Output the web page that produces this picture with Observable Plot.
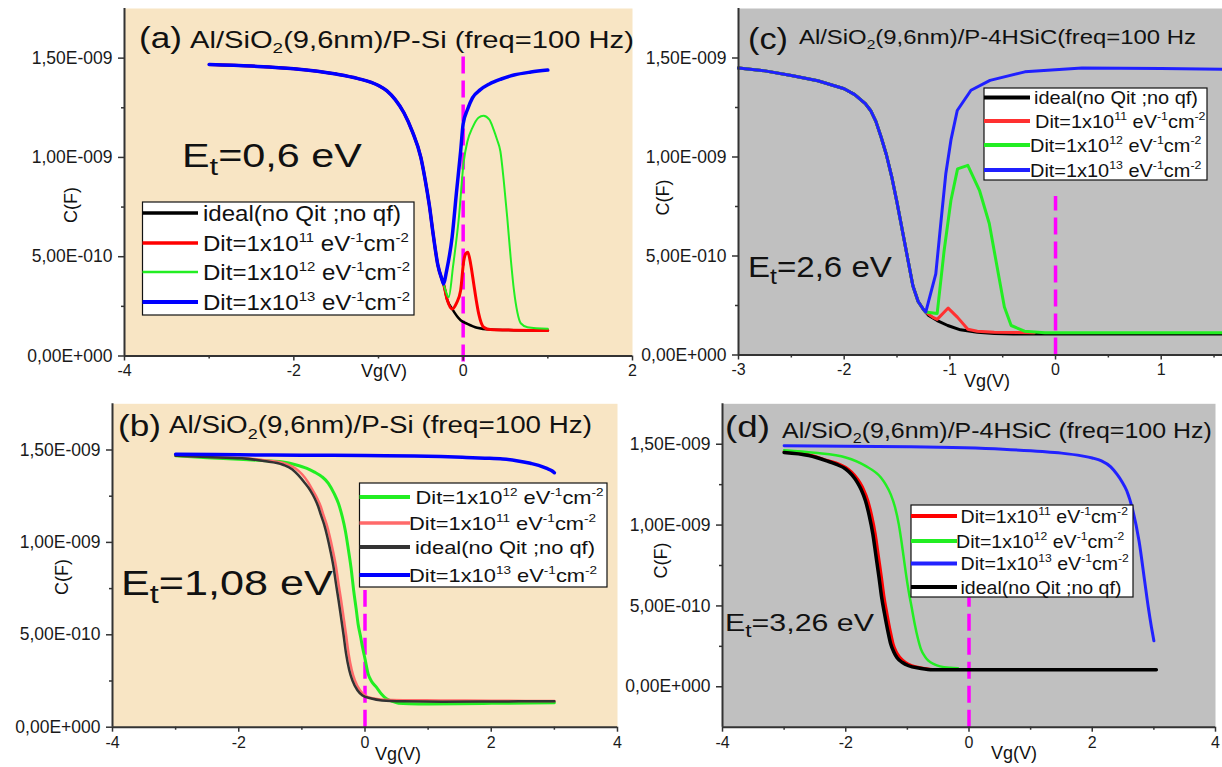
<!DOCTYPE html>
<html><head><meta charset="utf-8">
<script src="https://cdn.jsdelivr.net/npm/d3@7"></script>
<script src="https://cdn.jsdelivr.net/npm/@observablehq/plot@0.6"></script>
<style>
body{margin:0;background:#fff;}
#root{position:relative;width:1222px;height:767px;overflow:hidden;background:#fff;font-family:"Liberation Sans",Arial,sans-serif;}
.panel{position:absolute;}
.panel svg{overflow:visible;}
#overlay{position:absolute;left:0;top:0;pointer-events:none;}
</style></head><body><div id="root"></div>
<script>
// ---------- DATA (Vg in V, C in units of 1e-9 F) ----------
const labelIdeal = "ideal(no Qit ;no qf)";
const yTicksMajor = [0, 0.5e-9, 1.0e-9, 1.5e-9];
const yTicksMinor = [0.25e-9, 0.75e-9, 1.25e-9];
const xTicksA = [-4, -2, 0, 2], xMinorA = [-3, -1, 1];
const xTicksB = [-4, -2, 0, 2, 4], xMinorB = [-3, -1, 1, 3];
const xTicksC = [-3, -2, -1, 0, 1], xMinorC = [-2.5, -1.5, -0.5, 0.5, 1.5];

// (a) Et = 0,6 eV  P-Si
const a_ideal = [[-3,1.468],[-2.5,1.46],[-2,1.447],[-1.5,1.42],[-1.25,1.398],[-1,1.362],[-0.9,1.335],[-0.8,1.29],[-0.7,1.225],[-0.6,1.13],[-0.5,1.0],[-0.45,0.89],[-0.4,0.76],[-0.35,0.6],[-0.3,0.46],[-0.25,0.385],[-0.23,0.36],[-0.19,0.285],[-0.13,0.237],[-0.03,0.18],[0.05,0.162],[0.165,0.142],[0.32,0.133],[0.6,0.13],[1.0,0.128]];
const a_d11 = [[-3,1.468],[-2.5,1.46],[-2,1.447],[-1.5,1.42],[-1.25,1.398],[-1,1.362],[-0.9,1.335],[-0.8,1.29],[-0.7,1.225],[-0.6,1.13],[-0.5,1.0],[-0.45,0.89],[-0.4,0.76],[-0.35,0.6],[-0.3,0.46],[-0.25,0.385],[-0.23,0.36],[-0.19,0.285],[-0.13,0.237],[-0.08,0.265],[-0.03,0.33],[0.007,0.48],[0.03,0.515],[0.055,0.522],[0.09,0.46],[0.125,0.363],[0.155,0.28],[0.184,0.212],[0.243,0.145],[0.32,0.133],[0.6,0.13],[1.0,0.128]];
const a_d12 = [[-3,1.468],[-2.5,1.46],[-2,1.447],[-1.5,1.42],[-1.25,1.398],[-1,1.362],[-0.9,1.335],[-0.8,1.29],[-0.7,1.225],[-0.6,1.13],[-0.5,1.0],[-0.45,0.89],[-0.4,0.76],[-0.35,0.6],[-0.3,0.46],[-0.25,0.385],[-0.23,0.36],[-0.2,0.32],[-0.17,0.296],[-0.12,0.45],[-0.05,0.70],[0.007,0.98],[0.05,1.08],[0.11,1.15],[0.18,1.2],[0.24,1.21],[0.31,1.19],[0.36,1.14],[0.4,1.09],[0.44,1.03],[0.48,0.88],[0.52,0.70],[0.56,0.50],[0.6,0.33],[0.64,0.22],[0.68,0.165],[0.76,0.145],[1.0,0.137]];
const a_d13 = [[-3,1.468],[-2.5,1.46],[-2,1.447],[-1.5,1.42],[-1.25,1.398],[-1,1.362],[-0.9,1.335],[-0.8,1.29],[-0.7,1.225],[-0.6,1.13],[-0.5,1.0],[-0.45,0.89],[-0.4,0.76],[-0.35,0.6],[-0.3,0.46],[-0.25,0.385],[-0.23,0.363],[-0.2,0.42],[-0.13,0.60],[-0.08,0.82],[-0.03,1.03],[0,1.17],[0.05,1.24],[0.11,1.30],[0.2,1.34],[0.31,1.37],[0.45,1.395],[0.6,1.415],[0.8,1.43],[1.0,1.44]];
const a_zero = [-0.03, 1.52];

// (b) Et = 1,08 eV  P-Si
const b_d12 = [[-3,1.469],[-2.5,1.458],[-2,1.45],[-1.5,1.44],[-1.3,1.435],[-1.1,1.42],[-0.92,1.40],[-0.8,1.38],[-0.68,1.355],[-0.58,1.32],[-0.49,1.265],[-0.42,1.21],[-0.36,1.139],[-0.31,1.06],[-0.27,0.976],[-0.22,0.86],[-0.18,0.741],[-0.14,0.64],[-0.11,0.56],[-0.07,0.49],[-0.04,0.434],[0,0.37],[0.05,0.289],[0.1,0.25],[0.18,0.217],[0.26,0.18],[0.34,0.154],[0.43,0.14],[0.53,0.13],[0.7,0.127],[1.0,0.126],[1.5,0.127],[2,0.129],[3,0.132]];
const b_d11 = [[-3,1.469],[-2.5,1.463],[-1.95,1.457],[-1.6,1.445],[-1.3,1.43],[-1.1,1.40],[-1.0,1.37],[-0.9,1.325],[-0.83,1.283],[-0.76,1.24],[-0.7,1.193],[-0.66,1.15],[-0.61,1.10],[-0.56,1.035],[-0.51,0.958],[-0.46,0.87],[-0.42,0.777],[-0.38,0.69],[-0.34,0.596],[-0.3,0.50],[-0.26,0.398],[-0.21,0.31],[-0.16,0.253],[-0.08,0.2],[0,0.172],[0.14,0.155],[0.3,0.148],[0.6,0.146],[1.2,0.145],[2,0.143],[3,0.142]];
const b_ideal = [[-3,1.469],[-2.5,1.462],[-1.95,1.455],[-1.6,1.44],[-1.3,1.42],[-1.15,1.395],[-1.06,1.365],[-0.95,1.32],[-0.87,1.283],[-0.8,1.24],[-0.74,1.193],[-0.7,1.15],[-0.65,1.10],[-0.6,1.035],[-0.55,0.958],[-0.5,0.87],[-0.46,0.777],[-0.42,0.69],[-0.38,0.596],[-0.34,0.50],[-0.3,0.398],[-0.25,0.31],[-0.2,0.253],[-0.12,0.2],[-0.04,0.172],[0.1,0.155],[0.27,0.145],[0.6,0.14],[1.23,0.138],[2,0.139],[3,0.141]];
const b_d13 = [[-3,1.477],[-2,1.474],[-1,1.472],[0,1.47],[0.78,1.468],[1.2,1.465],[1.6,1.46],[1.9,1.456],[2.18,1.451],[2.4,1.442],[2.62,1.428],[2.75,1.417],[2.88,1.40],[2.96,1.388],[3.0,1.377]];
const b_zero = [0, 0.74];

// (c) Et = 2,6 eV  P-4HSiC
const c_ideal = [[-3,1.449],[-2.75,1.435],[-2.5,1.412],[-2.25,1.385],[-2,1.345],[-1.9,1.315],[-1.8,1.27],[-1.75,1.235],[-1.7,1.18],[-1.65,1.10],[-1.6,1.01],[-1.55,0.90],[-1.5,0.77],[-1.45,0.63],[-1.4,0.49],[-1.35,0.35],[-1.3,0.27],[-1.25,0.23],[-1.2,0.2],[-1.12,0.174],[-1.02,0.149],[-0.9,0.127],[-0.74,0.115],[-0.58,0.108],[-0.4,0.106],[0,0.106],[1.58,0.106]];
const c_d11 = [[-3,1.449],[-2.75,1.435],[-2.5,1.412],[-2.25,1.385],[-2,1.345],[-1.9,1.315],[-1.8,1.27],[-1.75,1.235],[-1.7,1.18],[-1.65,1.10],[-1.6,1.01],[-1.55,0.90],[-1.5,0.77],[-1.45,0.63],[-1.4,0.49],[-1.35,0.35],[-1.3,0.27],[-1.25,0.23],[-1.23,0.217],[-1.16,0.19],[-1.12,0.18],[-1.016,0.237],[-0.927,0.19],[-0.83,0.13],[-0.74,0.12],[-0.58,0.115],[-0.2,0.112]];
const c_d12 = [[-3,1.449],[-2.75,1.435],[-2.5,1.412],[-2.25,1.385],[-2,1.345],[-1.9,1.315],[-1.8,1.27],[-1.75,1.235],[-1.7,1.18],[-1.65,1.10],[-1.6,1.01],[-1.55,0.90],[-1.5,0.77],[-1.45,0.63],[-1.4,0.49],[-1.35,0.35],[-1.3,0.27],[-1.25,0.23],[-1.23,0.217],[-1.12,0.21],[-1.054,0.528],[-0.99,0.78],[-0.927,0.94],[-0.83,0.958],[-0.72,0.832],[-0.627,0.664],[-0.53,0.377],[-0.484,0.242],[-0.42,0.149],[-0.294,0.12],[-0.1,0.112],[1.58,0.112]];
const c_d13 = [[-3,1.449],[-2.75,1.435],[-2.5,1.412],[-2.25,1.385],[-2,1.345],[-1.9,1.315],[-1.8,1.27],[-1.75,1.235],[-1.7,1.18],[-1.65,1.10],[-1.6,1.01],[-1.55,0.90],[-1.5,0.77],[-1.45,0.63],[-1.4,0.49],[-1.35,0.35],[-1.3,0.27],[-1.25,0.23],[-1.228,0.217],[-1.133,0.41],[-1.086,0.664],[-1.038,0.917],[-0.99,1.085],[-0.93,1.235],[-0.8,1.337],[-0.62,1.387],[-0.29,1.43],[0.25,1.449],[1.0,1.447],[1.58,1.443]];
const c_zero = [0, 0.8];

// (d) Et = 3,26 eV  P-4HSiC
const d_d11 = [[-3,1.455],[-2.6,1.435],[-2.3,1.40],[-2.1,1.375],[-1.96,1.346],[-1.86,1.31],[-1.77,1.263],[-1.71,1.22],[-1.64,1.15],[-1.58,1.06],[-1.52,0.944],[-1.47,0.81],[-1.42,0.676],[-1.38,0.56],[-1.33,0.45],[-1.28,0.35],[-1.23,0.264],[-1.18,0.215],[-1.12,0.181],[-1.03,0.15],[-0.93,0.13],[-0.75,0.115],[-0.55,0.107],[0,0.107],[3,0.107]];
const d_d12 = [[-3,1.463],[-2.51,1.447],[-2.0,1.418],[-1.68,1.366],[-1.43,1.294],[-1.35,1.25],[-1.27,1.19],[-1.2,1.11],[-1.14,1.006],[-1.1,0.91],[-1.06,0.8],[-1.02,0.69],[-0.98,0.593],[-0.93,0.49],[-0.88,0.387],[-0.83,0.3],[-0.78,0.233],[-0.72,0.19],[-0.66,0.161],[-0.56,0.138],[-0.47,0.126],[-0.3,0.117],[-0.18,0.115]];
const d_d13 = [[-3,1.49],[-2,1.487],[-0.98,1.484],[0.55,1.469],[1.19,1.455],[1.5,1.445],[1.83,1.428],[2.0,1.415],[2.15,1.397],[2.3,1.36],[2.4,1.315],[2.48,1.27],[2.56,1.212],[2.66,1.088],[2.76,0.9],[2.85,0.655],[2.91,0.49],[2.96,0.37],[3.0,0.284]];
const d_ideal = [[-3,1.449],[-2.6,1.43],[-2.31,1.397],[-2.15,1.375],[-2.0,1.346],[-1.9,1.31],[-1.81,1.263],[-1.75,1.22],[-1.68,1.15],[-1.62,1.06],[-1.56,0.944],[-1.51,0.81],[-1.46,0.676],[-1.42,0.56],[-1.37,0.45],[-1.32,0.35],[-1.27,0.264],[-1.22,0.215],[-1.17,0.181],[-1.08,0.15],[-0.98,0.13],[-0.8,0.115],[-0.59,0.105],[0,0.105],[3.04,0.105]];
const d_zero = [-0.25, 0.55];

// ---------- STYLE ----------
const BEIGE = "#F8E5C4", GRAY = "#C0C0C0", AXIS = "#333", MAGENTA = "#FF00FF";
const RED = "#FF0000", GREEN = "#22EE22", BLUE = "#0000FF", BLACK = "#000000";

function sci(v) {
  if (v === 0) return "0,00E+000";
  const e = Math.floor(Math.log10(Math.abs(v)) + 1e-9);
  const m = v / Math.pow(10, e);
  return m.toFixed(2).replace(".", ",") + "E" + (e < 0 ? "-" : "+") + String(Math.abs(e)).padStart(3, "0");
}

const root = document.getElementById("root");

function panel(cfg) {
  const div = document.createElement("div");
  div.className = "panel";
  div.style.left = cfg.left + "px"; div.style.top = cfg.top + "px";
  const marks = [
    Plot.frame({fill: cfg.bg, stroke: "none"}),
    Plot.ruleX([0], {y1: cfg.zero[0] * 1e-9, y2: cfg.zero[1] * 1e-9, stroke: MAGENTA, strokeWidth: 3.5, strokeDasharray: "17,7"}),
    ...cfg.series.map(s => Plot.line(s.data, {x: d => d[0], y: d => d[1] * 1e-9, stroke: s.color, strokeWidth: s.width, curve: cfg.curve})),
    Plot.axisY({ticks: cfg.yMajor, tickFormat: sci, tickSize: 6, tickPadding: 6, fontSize: 17.5, label: null, stroke: AXIS, strokeWidth: 1.5}),
    Plot.axisY({ticks: cfg.yMinor, tickFormat: () => "", tickSize: 3, label: null, stroke: AXIS, strokeWidth: 1.5}),
    Plot.axisX({ticks: cfg.xMajor, tickFormat: d => String(d), tickSize: 5, tickPadding: 4, fontSize: 16, label: null, stroke: AXIS, strokeWidth: 1.5}),
    Plot.axisX({ticks: cfg.xMinor, tickFormat: () => "", tickSize: 3, label: null, stroke: AXIS, strokeWidth: 1.5}),
    Plot.ruleX([cfg.xDomain[0]], {stroke: AXIS, strokeWidth: 2}),
    Plot.ruleY([cfg.yDomain[0]], {stroke: AXIS, strokeWidth: 2})
  ];
  const svg = Plot.plot({
    width: cfg.width, height: cfg.height,
    marginLeft: cfg.ml, marginRight: cfg.mr, marginTop: cfg.mt, marginBottom: cfg.mb,
    x: {domain: cfg.xDomain}, y: {domain: cfg.yDomain},
    style: {background: "transparent", overflow: "visible", color: "#1a1a1a", fontFamily: '"Liberation Sans", Arial, sans-serif', maxWidth: "none"},
    marks
  });
  div.appendChild(svg);
  root.appendChild(div);
}

panel({left: 0, top: 0, width: 640, height: 392, ml: 124, mr: 8, mt: 8, mb: 36.5,
  xDomain: [-4, 2], yDomain: [0, 1.75e-9], xMajor: xTicksA, xMinor: xMinorA, yMajor: yTicksMajor, yMinor: yTicksMinor,
  bg: BEIGE, curve: "monotone-x", zero: a_zero,
  series: [{data: a_ideal, color: BLACK, width: 2.5}, {data: a_d11, color: RED, width: 3}, {data: a_d12, color: GREEN, width: 2}, {data: a_d13, color: BLUE, width: 3.5}]});

panel({left: 636, top: 0, width: 586, height: 392, ml: 102, mr: 0, mt: 8, mb: 37.5,
  xDomain: [-3, 1.58], yDomain: [0, 1.75e-9], xMajor: xTicksC, xMinor: xMinorC, yMajor: yTicksMajor, yMinor: yTicksMinor,
  bg: GRAY, curve: "linear", zero: c_zero,
  series: [{data: c_ideal, color: BLACK, width: 3}, {data: c_d11, color: "#FF3030", width: 3}, {data: c_d12, color: GREEN, width: 3}, {data: c_d13, color: "#2020FF", width: 3}]});

panel({left: 0, top: 390, width: 625, height: 377, ml: 112, mr: 8, mt: 13.3, mb: 40.3,
  xDomain: [-4, 4], yDomain: [0, 1.75e-9], xMajor: xTicksB, xMinor: xMinorB, yMajor: yTicksMajor, yMinor: yTicksMinor,
  bg: BEIGE, curve: "monotone-x", zero: b_zero,
  series: [{data: b_d12, color: GREEN, width: 3}, {data: b_d11, color: "#FF6A6A", width: 2.5}, {data: b_ideal, color: "#333333", width: 2.5}, {data: b_d13, color: BLUE, width: 3.5}]});

panel({left: 610, top: 390, width: 612, height: 377, ml: 112, mr: 7, mt: 13.3, mb: 40.3,
  xDomain: [-4, 4], yDomain: [-0.25e-9, 1.75e-9], xMajor: xTicksB, xMinor: xMinorB, yMajor: yTicksMajor, yMinor: yTicksMinor,
  bg: GRAY, curve: "monotone-x", zero: d_zero,
  series: [{data: d_d11, color: RED, width: 3}, {data: d_d12, color: GREEN, width: 2.5}, {data: d_d13, color: "#2222FF", width: 3}, {data: d_ideal, color: BLACK, width: 3.5}]});

// ---------- OVERLAY TEXT / LEGENDS ----------
const ov = d3.select(root).append("svg").attr("id", "overlay").attr("width", 1222).attr("height", 767)
  .style("font-family", '"Liberation Sans", Arial, sans-serif');

function richText(x, y, parts, fs, opts = {}) {
  const t = ov.append("text").attr("x", 0).attr("y", 0).attr("font-size", fs)
    .attr("fill", opts.fill || "#111").style("white-space", "pre").attr("text-anchor", opts.anchor || "start");
  let shift = 0;
  for (const p of parts) {
    const ts = t.append("tspan").text(p.t);
    let target = 0;
    if (p.sup) { ts.attr("font-size", fs * 0.62); target = -0.42 * fs; }
    else if (p.sub) { ts.attr("font-size", fs * (p.subSize || 0.65)); target = 0.24 * fs; }
    if (target !== shift) { ts.attr("dy", target - shift); shift = target; }
  }
  let sx = opts.sx || 1;
  if (opts.width) { const w = t.node().getComputedTextLength(); if (w > 0) sx = opts.width / w; }
  t.attr("transform", `translate(${x},${y})` + (opts.rotate ? ` rotate(${opts.rotate})` : "") + ` scale(${sx},1)`);
  return sx;
}
const P = s => ({t: s});
const dit = e => [P("Dit=1x10"), {t: e, sup: true}, P(" eV"), {t: "-1", sup: true}, P("cm"), {t: "-2", sup: true}];
const titleSi = [P("Al/SiO"), {t: "2", sub: true}, P("(9,6nm)/P-Si (freq=100 Hz)")];
const titleC = [P("Al/SiO"), {t: "2", sub: true}, P("(9,6nm)/P-4HSiC(freq=100 Hz")];
const titleD = [P("Al/SiO"), {t: "2", sub: true}, P("(9,6nm)/P-4HSiC (freq=100 Hz)")];
const et = v => [P("E"), {t: "t", sub: true, subSize: 0.75}, P("=" + v + " eV")];

// titles
richText(139, 48, [P("(a)")], 29, {width: 43});
richText(190, 47.5, titleSi, 23, {width: 444});
richText(118, 436, [P("(b)")], 29, {width: 43});
richText(169, 433, titleSi, 23, {width: 423});
richText(748, 49, [P("(c)")], 29, {width: 40});
richText(799, 43.5, titleC, 21, {width: 397});
richText(725, 437, [P("(d)")], 30, {width: 45});
richText(782, 437.5, titleD, 23, {width: 430});

// Et annotations
richText(182, 167, et("0,6"), 33, {width: 180});
richText(121, 595, et("1,08"), 35, {width: 212});
richText(748, 277, et("2,6"), 30, {width: 144});
richText(725, 631, et("3,26"), 24.5, {width: 149});

// axis titles
[[70, 205], [662, 197.5], [61, 577], [660, 560.5]].forEach(([x, y]) => richText(x + 6.5, y, [P("C(F)")], 18, {anchor: "middle", rotate: -90}));
[[384, 377], [987, 387], [398, 760], [1014, 759]].forEach(([x, y]) => richText(x, y, [P("Vg(V)")], 18, {anchor: "middle"}));

// legends
function legend(box, lineX, rows, fs, idealWidth) {
  ov.append("rect").attr("x", box[0]).attr("y", box[1]).attr("width", box[2] - box[0]).attr("height", box[3] - box[1])
    .attr("fill", "#fff").attr("stroke", "#111").attr("stroke-width", 1.2);
  const ideal = rows.find(r => r.ideal);
  rows.forEach(r => {
    ov.append("line").attr("x1", lineX[0]).attr("x2", lineX[1]).attr("y1", r.y).attr("y2", r.y)
      .attr("stroke", r.color).attr("stroke-width", r.w);
  });
  const sx = richText(ideal.tx, ideal.y + fs * 0.36, [P(labelIdeal)], fs, {width: idealWidth});
  rows.filter(r => !r.ideal).forEach(r => richText(r.tx, r.y + fs * 0.36, dit(r.e), fs, {sx}));
}
legend([142.5, 202, 414, 315], [142.5, 198], [
  {ideal: true, y: 213, color: BLACK, w: 3.5, tx: 203},
  {e: "11", y: 243, color: RED, w: 3.5, tx: 203},
  {e: "12", y: 272, color: GREEN, w: 2.5, tx: 203},
  {e: "13", y: 302, color: BLUE, w: 4, tx: 203}], 22, 198);
legend([359.5, 483, 607, 587], [359.5, 410], [
  {e: "12", y: 497, color: GREEN, w: 4, tx: 415.5},
  {e: "11", y: 523, color: "#FF6A6A", w: 3.5, tx: 409},
  {ideal: true, y: 547, color: "#333333", w: 4, tx: 415},
  {e: "13", y: 575, color: BLUE, w: 4, tx: 409}], 19, 180);
legend([984, 88, 1207, 180], [984, 1030], [
  {ideal: true, y: 97.5, color: BLACK, w: 4, tx: 1034},
  {e: "11", y: 121, color: "#FF3030", w: 4, tx: 1035},
  {e: "12", y: 145, color: GREEN, w: 4, tx: 1030},
  {e: "13", y: 170, color: "#2020FF", w: 4, tx: 1030}], 18.6, 164);
legend([911, 505, 1133, 597], [911, 957], [
  {e: "11", y: 516, color: RED, w: 4, tx: 960.5},
  {e: "12", y: 541, color: GREEN, w: 4, tx: 956},
  {e: "13", y: 563.5, color: "#2222FF", w: 4, tx: 960.5},
  {ideal: true, y: 587, color: BLACK, w: 4, tx: 960.5}], 18.6, 161);
</script></body></html>
